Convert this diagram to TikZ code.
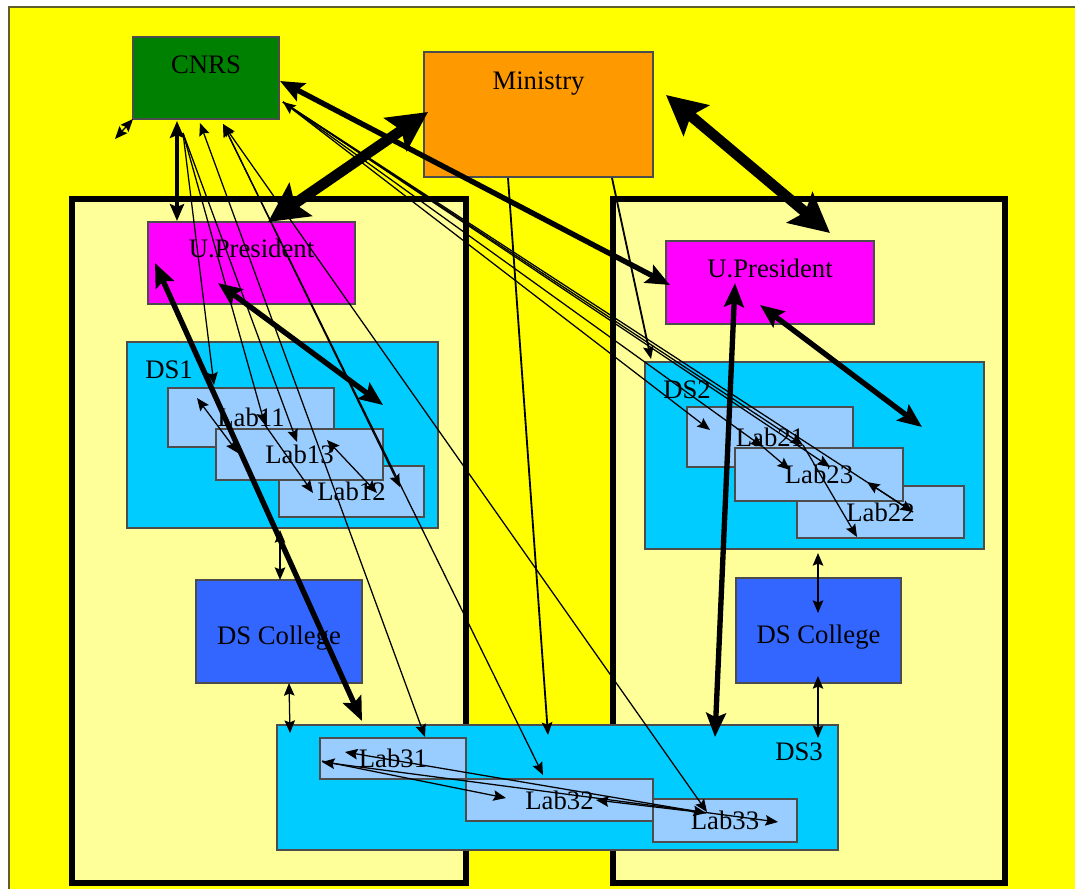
\documentclass[tikz,border=0pt]{standalone}
\usepackage{fontspec}
\setmainfont{Liberation Serif}
\usetikzlibrary{arrows.meta}

\definecolor{bgyellow}{HTML}{FFFF00}
\definecolor{unifill}{HTML}{FFFF99}
\definecolor{cnrsgreen}{HTML}{008000}
\definecolor{minorange}{HTML}{FF9900}
\definecolor{upmag}{HTML}{FF00FF}
\definecolor{dscyan}{HTML}{00CCFF}
\definecolor{labblue}{HTML}{99CCFF}
\definecolor{collblue}{HTML}{3366FF}

\begin{document}
\begin{tikzpicture}[x=0.25mm, y=-0.25mm,
    box/.style={draw=black!70, line width=0.9pt, inner sep=0pt, outer sep=0pt,
      anchor=north west, font=\fontsize{19}{22}\selectfont},
    college/.style={box, fill=collblue, text height=22pt, text depth=4pt},
    uni/.style={draw=black, line width=3.8pt, fill=unifill, inner sep=0pt,
      outer sep=0pt, anchor=north west},
    txt/.style={inner sep=0pt, font=\fontsize{19}{22}\selectfont},
    wire/.style={line width=0.9pt, >={Stealth[length=9pt, width=7.5pt, inset=1.5pt]}},
    stout wire/.style={line width=2.8pt, >={Stealth[length=12pt, width=10pt, inset=2pt]}},
    bold wire/.style={line width=3.8pt, >={Stealth[length=17pt, width=14pt, inset=3pt]}},
    heavy wire/.style={line width=7.5pt, >={Stealth[length=28pt, width=28pt, inset=5pt]}}]

    \useasboundingbox (0,0) rectangle (1075,888);
    \clip (0,0) rectangle (1075,888);
    \fill[white] (0,0) rectangle (1075,888);
    \draw[fill=bgyellow, draw=olive!60!black, line width=0.8pt] (9,7) rectangle (1090,900);

    % the two universities
    \node[uni, minimum width=98.5mm, minimum height=171mm] (uniL) at (72,199) {};
    \node[uni, minimum width=98mm, minimum height=171mm] (uniR) at (613,199) {};

    \node[box, fill=cnrsgreen, minimum width=36.5mm, minimum height=20.5mm] (cnrs) at (133,37) {};
    \node[txt] (cnrs-t) at ([shift={(0,28)}]cnrs.north) {CNRS};
    \node[box, fill=minorange, minimum width=57.25mm, minimum height=31.25mm] (ministry) at (424,52) {};
    \node[txt] (ministry-t) at ([shift={(0,32)}]ministry.north) {Ministry};

    \node[box, fill=upmag, minimum width=51.75mm, minimum height=20.5mm] (upL) at (148,222) {};
    \node[txt] (upL-t) at ([shift={(0,26)}]upL.north) {U.President};
    \node[box, fill=upmag, minimum width=52mm, minimum height=20.75mm] (upR) at (666,241) {};
    \node[txt] (upR-t) at ([shift={(0,27)}]upR.north) {U.President};

    % doctoral schools and labs
    \node[box, fill=dscyan, minimum width=77.75mm, minimum height=46.5mm] (ds1) at (127,342) {};
    \node[txt, anchor=west] (ds1-t) at ([shift={(18,28)}]ds1.north west) {DS1};
    \node[box, fill=labblue, minimum width=41.5mm, minimum height=14.75mm] (lab11) at (168,388) {Lab11};
    \node[box, fill=labblue, minimum width=36.25mm, minimum height=12.75mm] (lab12) at (279,466) {Lab12};
    \node[box, fill=labblue, minimum width=41.75mm, minimum height=12.75mm] (lab13) at (216,429) {Lab13};

    \node[box, fill=dscyan, minimum width=84.75mm, minimum height=46.75mm] (ds2) at (645,362) {};
    \node[txt, anchor=west] (ds2-t) at ([shift={(18,28)}]ds2.north west) {DS2};
    \node[box, fill=labblue, minimum width=41.5mm, minimum height=15mm] (lab21) at (687,407) {Lab21};
    \node[box, fill=labblue, minimum width=41.75mm, minimum height=13mm] (lab22) at (797,486) {Lab22};
    \node[box, fill=labblue, minimum width=42mm, minimum height=13.25mm] (lab23) at (735,448) {Lab23};

    \node[college, minimum width=41.5mm, minimum height=25.75mm] (dscL) at (196,580) {DS College};
    \node[college, minimum width=41.25mm, minimum height=26.25mm] (dscR) at (736,578) {DS College};

    \node[box, fill=dscyan, minimum width=140.25mm, minimum height=31.25mm] (ds3) at (277,725) {};
    \node[txt, anchor=west] (ds3-t) at ([shift={(498,27)}]ds3.north west) {DS3};
    \node[box, fill=labblue, minimum width=36.5mm, minimum height=10.25mm] (lab31) at (320,738) {Lab31};
    \node[box, fill=labblue, minimum width=46.75mm, minimum height=10.5mm] (lab32) at (466,779) {Lab32};
    \node[box, fill=labblue, minimum width=36mm, minimum height=10.75mm] (lab33) at (653,799) {Lab33};

    % heavy links
    \draw[stout wire, <->] ([shift={(44,84)}]cnrs.north west) -- ([shift={(29,-1)}]upL.north west);
    \draw[heavy wire, <->] ([shift={(4,60)}]ministry.north west) -- ([shift={(120,0)}]upL.north west);
    \draw[heavy wire, <->] ([shift={(242,43)}]ministry.north west) -- ([shift={(164,-8)}]upR.north west);
    \draw[bold wire, <->] ([shift={(147,44)}]cnrs.north west) -- ([shift={(4,44)}]upR.north west);
    \draw[bold wire, <->] ([shift={(70,61)}]upL.north west) -- ([shift={(256,63)}]ds1.north west);
    \draw[bold wire, <->] ([shift={(7,41)}]upL.north west) -- ([shift={(85,-4)}]ds3.north west);
    \draw[bold wire, <->] ([shift={(69,42)}]upR.north west) -- ([shift={(438,12)}]ds3.north west);
    \draw[bold wire, <->] ([shift={(94,64)}]upR.north west) -- ([shift={(277,65)}]ds2.north west);

    % thin links
    \draw[wire, <->] (cnrs.south west) -- ([shift={(-18,20)}]cnrs.south west);
    \draw[wire, <->] ([shift={(153,188)}]ds1.north west) -- ([shift={(84,0)}]dscL.north west);
    \draw[wire, <->] ([shift={(93,103)}]dscL.north west) -- ([shift={(13,8)}]ds3.north west);
    \draw[wire, <->] ([shift={(173,191)}]ds2.north west) -- ([shift={(82,35)}]dscR.north west);
    \draw[wire, <->] ([shift={(82,98)}]dscR.north west) -- ([shift={(541,13)}]ds3.north west);
    \draw[wire, line width=1.3pt, ->] ([shift={(188,126)}]ministry.north west) -- ([shift={(6,-3)}]ds2.north west);
    \draw[wire, line width=1.3pt, ->] ([shift={(84,126)}]ministry.north west) -- ([shift={(271,10)}]ds3.north west);

    \foreach \dx/\dy/\n in {46/-3/lab11, 97/37/lab11, 81/13/lab13}
      \draw[wire, ->] ([shift={(50,96)}]cnrs.north west) -- ([shift={(\dx,\dy)}]\n.north west);
    \draw[wire, <->] ([shift={(67,86)}]cnrs.north west) -- ([shift={(105,-1)}]lab31.north west);
    \foreach \dx/\dy/\n in {121/21/lab12, 77/-4/lab32, 54/13/lab33}
      \draw[wire, <->] ([shift={(90,87)}]cnrs.north west) -- ([shift={(\dx,\dy)}]\n.north west);

    \draw[wire, <->] ([shift={(150,65)}]cnrs.north west) -- ([shift={(23,23)}]lab21.north west);
    \foreach \dx/\dy/\n in {76/40/lab21, 116/38/lab21, 95/19/lab23, 116/26/lab22}
      \draw[wire, ->] ([shift={(150,65)}]cnrs.north west) -- ([shift={(\dx,\dy)}]\n.north west);

    % between labs
    \draw[wire, <->] ([shift={(29,10)}]lab11.north west) -- ([shift={(22,24)}]lab13.north west);
    \draw[wire, ->] ([shift={(97,37)}]lab11.north west) -- ([shift={(34,27)}]lab12.north west);
    \draw[wire, <->] ([shift={(111,11)}]lab13.north west) -- ([shift={(98,27)}]lab12.north west);
    \draw[wire, ->] ([shift={(116,26)}]lab22.north west) -- ([shift={(132,34)}]lab23.north west);
    \draw[wire, ->] ([shift={(76,40)}]lab21.north west) -- ([shift={(55,22)}]lab23.north west);
    \draw[wire, ->] ([shift={(116,38)}]lab21.north west) -- ([shift={(60,51)}]lab22.north west);
    \draw[wire, <->] ([shift={(2,24)}]lab31.north west) -- ([shift={(125,23)}]lab33.north west);
    \draw[wire, <->] ([shift={(25,14)}]lab31.north west) -- ([shift={(53,14)}]lab33.north west);
    \draw[wire, ->] ([shift={(2,23)}]lab31.north west) -- ([shift={(40,19)}]lab32.north west);
    \draw[wire, ->] ([shift={(53,14)}]lab33.north west) -- ([shift={(130,21)}]lab32.north west);
\end{tikzpicture}
\end{document}
